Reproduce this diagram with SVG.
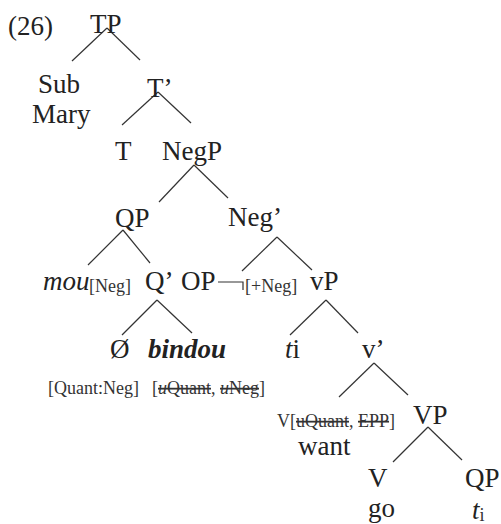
<svg xmlns="http://www.w3.org/2000/svg" width="501" height="524" viewBox="0 0 501 524">
<style>
text{font-family:"Liberation Serif","Times New Roman",serif;fill:#222}
.m{font-size:27px}
.f{font-size:18px;fill:#333}
.it{font-style:italic}
.bi{font-style:italic;font-weight:bold}
.s{text-decoration:line-through}
#edges line,#edges path{stroke:#333;stroke-width:1.2;fill:none}
</style>
<rect width="501" height="524" fill="#fff"/>
<g id="edges">
<line x1="107" y1="28" x2="72" y2="61"/>
<line x1="107" y1="28" x2="140" y2="60"/>
<line x1="158" y1="92" x2="122" y2="125"/>
<line x1="158" y1="92" x2="191" y2="123"/>
<line x1="194" y1="165" x2="159" y2="202"/>
<line x1="194" y1="165" x2="228" y2="198"/>
<line x1="123" y1="230" x2="88" y2="265"/>
<line x1="123" y1="230" x2="150" y2="263"/>
<line x1="277" y1="237" x2="242" y2="271"/>
<line x1="277" y1="237" x2="312" y2="270"/>
<line x1="157" y1="300" x2="122" y2="335"/>
<line x1="157" y1="300" x2="192" y2="333"/>
<line x1="326" y1="300" x2="290" y2="335"/>
<line x1="326" y1="300" x2="358" y2="333"/>
<line x1="374" y1="363" x2="339" y2="397"/>
<line x1="374" y1="363" x2="408" y2="395"/>
<line x1="428" y1="427" x2="393" y2="462"/>
<line x1="428" y1="427" x2="462" y2="460"/>
<path d="M218,282 H243 V290"/>
</g>
<g id="label26"><text class="m" x="8" y="35">(26)</text></g>
<g id="TP"><text class="m" x="90" y="33">TP</text></g>
<g id="Sub"><text class="m" x="38" y="93">Sub</text><text class="m" x="32" y="123">Mary</text></g>
<g id="Tbar"><text class="m" x="147" y="97">T’</text></g>
<g id="T"><text class="m" x="115" y="160">T</text></g>
<g id="NegP"><text class="m" x="162" y="160">NegP</text></g>
<g id="QP"><text class="m" x="115" y="227">QP</text></g>
<g id="Negbar"><text class="m" x="228" y="226">Neg’</text></g>
<g id="mou"><text class="m it" x="43" y="290">mou</text><text class="f" x="89" y="292">[Neg]</text></g>
<g id="Qbar"><text class="m" x="145" y="290">Q’</text></g>
<g id="OP"><text class="m" x="181" y="290">OP</text></g>
<g id="plusNeg"><text class="f" x="245" y="292">[+Neg]</text></g>
<g id="vP"><text class="m" x="310" y="290">vP</text></g>
<g id="null"><text class="m" x="110" y="358">Ø</text></g>
<g id="bindou"><text class="m bi" x="148" y="358">bindou</text></g>
<g id="ti1"><text class="m" x="285" y="358"><tspan class="it">t</tspan>i</text></g>
<g id="vbar"><text class="m" x="362" y="358">v’</text></g>
<g id="feat1"><text class="f" x="48" y="394">[Quant:Neg]</text></g>
<g id="feat2"><text class="f" x="152" y="394">[<tspan class="s"><tspan class="it">u</tspan>Quant</tspan>, <tspan class="s"><tspan class="it">u</tspan>Neg</tspan>]</text></g>
<g id="Vwant"><text class="f" x="277" y="427">V[<tspan class="s">uQuant</tspan>, <tspan class="s">EPP</tspan>]</text><text class="m" x="298" y="455">want</text></g>
<g id="VP"><text class="m" x="413" y="424">VP</text></g>
<g id="Vgo"><text class="m" x="368" y="487">V</text><text class="m" x="368" y="517">go</text></g>
<g id="QP2"><text class="m" x="465" y="487">QP</text><text class="m it" x="472" y="519">t<tspan class="f" style="font-style:normal" dy="2">i</tspan></text></g>
</svg>
